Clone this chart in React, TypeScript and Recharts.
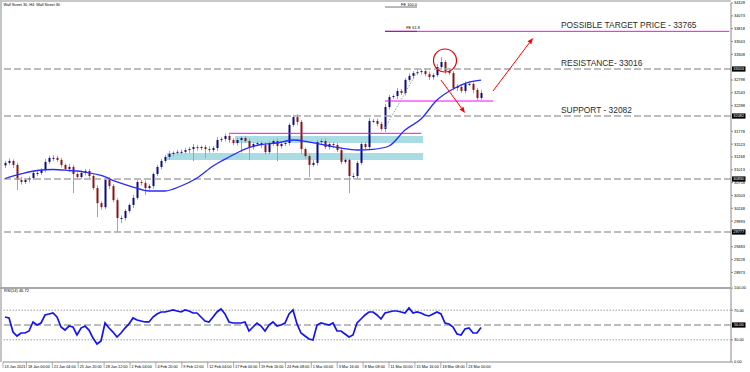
import React from 'react';
import {
  ComposedChart,
  LineChart,
  Bar,
  Line,
  XAxis,
  YAxis,
  ReferenceLine,
  ReferenceArea,
  ReferenceDot,
} from 'recharts';

const FONT = "'Liberation Sans', Arial, sans-serif";

// ---- data (H4 candles, condensed) ----
const firstOpen = 31100;
const closes = [
  31150, 31190, 31110, 30810, 30770, 30810, 30850, 30950, 30950, 31010,
  31170, 31250, 31250, 31210, 31110, 31030, 31070, 30930, 30870, 30950,
  30990, 30890, 30650, 30350, 30270, 30810, 30690, 30410, 30055, 30055,
  30195, 30315, 30455, 30770, 30750, 30650, 30690, 30930, 31070, 31190,
  31270, 31330, 31350, 31370, 31370, 31405, 31425, 31465, 31445, 31465,
  31425, 31405, 31445, 31605, 31625, 31685, 31605, 31545, 31605, 31645,
  31585, 31465, 31525, 31545, 31505, 31365, 31545, 31585, 31485, 31525,
  31545, 31905, 32060, 31965, 31425, 31285, 31110, 31150, 31565, 31585,
  31465, 31525, 31505, 31405, 31170, 31210, 30890, 30890, 31150, 31525,
  31465, 31985, 31985, 31925, 31825, 32260, 32460, 32480, 32580, 32540,
  32800, 32880, 32935, 32955, 32975, 32915, 32855, 32895, 33055, 33155,
  32975, 32935, 32640, 32660, 32580, 32720, 32720, 32600, 32440, 32540,
];
const wickUp = [
  40, 50, 30, 40, 60, 40, 30, 50, 40, 40,
  60, 40, 50, 40, 40, 30, 60, 40, 30, 50,
  40, 40, 30, 60, 40, 40, 60, 40, 40, 50,
  40, 30, 60, 40, 40, 50, 40, 30, 40, 40,
  40, 60, 30, 40, 50, 40, 40, 60, 40, 30,
  40, 50, 40, 60, 40, 50, 30, 40, 50, 40,
  40, 50, 40, 30, 40, 60, 40, 30, 50, 40,
  40, 40, 40, 60, 40, 30, 40, 60, 40, 40,
  50, 40, 30, 40, 50, 40, 30, 60, 40, 40,
  40, 60, 40, 50, 40, 60, 40, 30, 60, 40,
  40, 50, 40, 60, 40, 40, 50, 40, 60, 100,
  40, 50, 40, 60, 40, 50, 40, 30, 40, 60,
];
const wickDn = [
  50, 40, 60, 200, 50, 40, 50, 40, 60, 40,
  50, 40, 60, 40, 50, 40, 60, 380, 50, 40,
  50, 60, 40, 275, 50, 40, 60, 40, 275, 100,
  50, 40, 60, 40, 50, 140, 40, 60, 40, 50,
  40, 60, 50, 40, 50, 40, 60, 240, 50, 40,
  180, 50, 40, 60, 40, 50, 60, 40, 50, 250,
  40, 260, 50, 40, 60, 50, 40, 60, 300, 50,
  40, 50, 40, 60, 100, 50, 240, 40, 50, 60,
  40, 50, 60, 40, 50, 40, 340, 60, 50, 40,
  50, 60, 40, 50, 40, 60, 50, 40, 60, 40,
  50, 40, 60, 40, 50, 40, 60, 50, 40, 50,
  60, 40, 50, 60, 40, 50, 40, 60, 50, 40,
];
const maPoints: [number, number][] = [
  [0, 30840], [4, 30930], [8, 30999], [12, 31019], [16, 30999], [20, 30969],
  [24, 30900], [28, 30771], [32, 30671], [36, 30592], [40, 30592], [44, 30691],
  [48, 30850], [52, 31089], [56, 31267], [60, 31426], [64, 31516], [68, 31546],
  [72, 31605], [76, 31565], [80, 31506], [84, 31446], [88, 31407], [92, 31420],
  [96, 31486], [100, 31804], [104, 32022], [108, 32400], [112, 32619],
  [116, 32758], [119, 32797],
];
const rsiValues = [
  60.8, 59.5, 40.5, 35.1, 39.2, 39.2, 41.9, 54.1, 50.0, 52.7,
  63.5, 64.9, 66.2, 60.8, 47.3, 43.2, 48.6, 47.3, 36.5, 45.9,
  48.6, 43.2, 32.4, 24.3, 28.4, 52.7, 45.9, 40.5, 33.8, 39.2,
  45.9, 51.4, 59.5, 56.8, 55.4, 54.1, 54.1, 60.8, 64.9, 67.6,
  67.6, 68.9, 70.3, 68.9, 67.6, 70.3, 68.9, 66.2, 66.2, 60.8,
  55.4, 54.1, 60.8, 67.6, 71.6, 64.9, 54.1, 52.7, 52.7, 52.7,
  54.1, 41.9, 47.3, 52.7, 48.6, 41.9, 50.0, 54.1, 48.6, 50.0,
  52.7, 64.9, 70.3, 51.4, 39.2, 35.1, 31.1, 29.7, 50.0, 52.7,
  51.4, 50.0, 52.7, 41.9, 41.9, 37.8, 33.8, 36.5, 52.7, 58.1,
  63.5, 67.6, 67.6, 63.5, 58.1, 66.2, 67.6, 68.9, 68.9, 67.6,
  66.2, 73.0, 66.2, 67.6, 66.2, 63.5, 62.2, 64.9, 67.6, 64.9,
  52.7, 51.4, 47.3, 37.8, 36.5, 44.6, 45.9, 39.2, 39.2, 46.7,
];
const priceTicks = [
  34328, 34073, 33818, 33563, 33308, 32798, 32543, 32288, 31778, 31523,
  31268, 31013, 30758, 30503, 30248, 29993, 29483, 29228, 28973,
];
const xLabels = [
  '13 Jan 2021', '18 Jan 00:00', '21 Jan 04:00', '25 Jan 20:00', '28 Jan 12:00',
  '2 Feb 04:00', '4 Feb 20:00', '9 Feb 12:00', '12 Feb 04:00', '17 Feb 00:00',
  '19 Feb 16:00', '24 Feb 08:00', '1 Mar 00:00', '3 Mar 16:00', '8 Mar 08:00',
  '11 Mar 00:00', '15 Mar 16:00', '18 Mar 08:00', '23 Mar 00:00',
];
const rsiTicks = [0, 30, 70, 100];

// levels
const resistance = 33016;
const support = 32082;
const level3 = 30830;
const level4 = 29777;
const target = 33765;
const fe100 = 34248;

// ---- table for recharts ----
const SLOTS = 182;
const rows: any[] = Array.from({ length: SLOTS }, (_, i) => {
  if (i >= closes.length) return { i };
  const open = i === 0 ? firstOpen : closes[i - 1];
  const close = closes[i];
  const high = Math.max(open, close) + wickUp[i];
  const low = Math.min(open, close) - wickDn[i];
  return { i, open, close, high, low, hl: [low, high], rsi: rsiValues[i] };
});
maPoints.forEach(([i, v]) => {
  rows[i].ma = v;
});
const xTickPos = xLabels.map((_, k) => (k === 0 ? -0.5 : -1.125 + 6.475 * k));

// ---- shapes ----
const Candle = (p: any) => {
  const { x, y, width, height, payload } = p;
  if (!payload || payload.high == null || x == null) return null;
  const top = height >= 0 ? y : y + height;
  const h = Math.abs(height);
  const k = h / (payload.high - payload.low);
  const cx = Math.round(x + width / 2);
  const yo = top + (payload.high - payload.open) * k;
  const yc = top + (payload.high - payload.close) * k;
  const up = payload.close >= payload.open;
  const bt = Math.min(yo, yc);
  const bh = Math.max(Math.abs(yo - yc), 1);
  return (
    <g>
      <line x1={cx + 0.5} x2={cx + 0.5} y1={top} y2={top + h} stroke="#a4a4a4" strokeWidth={1} />
      <rect x={cx - 0.5} y={bt} width={2} height={bh} fill={up ? '#0b0b86' : '#8a1414'} />
    </g>
  );
};

const Arrow = (p: any) => {
  const { x1, y1, x2, y2 } = p;
  if (x1 == null) return null;
  const a = Math.atan2(y2 - y1, x2 - x1);
  const L = 6;
  const W = 2.4;
  const bx = x2 - L * Math.cos(a);
  const by = y2 - L * Math.sin(a);
  const pts = `${x2},${y2} ${bx + W * Math.sin(a)},${by - W * Math.cos(a)} ${bx - W * Math.sin(a)},${by + W * Math.cos(a)}`;
  return (
    <g>
      <line x1={x1} y1={y1} x2={bx} y2={by} stroke="#ff0000" strokeWidth={1} />
      <polygon points={pts} fill="#ff0000" />
    </g>
  );
};

const PriceBox = ({ viewBox, text }: any) => {
  if (!viewBox) return null;
  const x = viewBox.x + viewBox.width + 1;
  const y = viewBox.y;
  return (
    <g>
      <rect x={x} y={y - 2.6} width={13.5} height={5.2} fill="#000" />
      <text x={x + 6.75} y={y + 1.4} textAnchor="middle" fontSize={3.9} fill="#fff" fontFamily={FONT}>
        {text}
      </text>
    </g>
  );
};

const XTick = (p: any) => {
  const { x, y, index } = p;
  return (
    <g>
      <line x1={x} x2={x} y1={y} y2={y + 6} stroke="#8a8a8a" strokeWidth={0.7} />
      <text x={x + 1.5} y={y + 5.5} fontSize={3.8} fill="#000" fontFamily={FONT}>
        {xLabels[index]}
      </text>
    </g>
  );
};

const dashed = { stroke: '#a8a8a8', strokeWidth: 1.6, strokeDasharray: '7 3' };
const bigText = { fontSize: 8.4, fill: '#2b2b2b', fontFamily: FONT };

export default function App() {
  return (
    <div style={{ position: 'absolute', left: 0, top: 0, width: 750, height: 372, background: '#fff', overflow: 'hidden' }}>
      <div style={{ position: 'absolute', left: 0, top: 0 }}>
        <ComposedChart width={750} height={289} data={rows} margin={{ top: 3, right: 0, bottom: 2, left: 3 }}>
          <XAxis dataKey="i" type="category" hide />
          <YAxis
            orientation="right"
            width={19}
            domain={[28684, 34328]}
            allowDataOverflow
            ticks={priceTicks}
            interval={0}
            tickSize={2}
            tickMargin={1}
            tick={{ fontSize: 3.9, fill: '#000', fontFamily: FONT }}
            axisLine={{ stroke: '#8a8a8a' }}
            tickLine={{ stroke: '#8a8a8a' }}
          />
          <ReferenceArea x1={41} x2={104} y1={31208} y2={31347} fill="#a9dce3" fillOpacity={1} stroke="none" />
          <ReferenceArea x1={58} x2={104} y1={31546} y2={31685} fill="#a9dce3" fillOpacity={1} stroke="none" />
          <ReferenceLine y={resistance} {...dashed} label={<PriceBox text="33016" />} />
          <ReferenceLine y={support} {...dashed} label={<PriceBox text="32082" />} />
          <ReferenceLine y={level3} {...dashed} label={<PriceBox text="30830" />} />
          <ReferenceLine y={level4} {...dashed} label={<PriceBox text="29777" />} />
          <ReferenceLine
            y={34328}
            stroke="none"
            label={{ value: 'Wall Street 30, H4: Wall Street 30', position: 'insideTopLeft', offset: 0.5, fontSize: 3.8, fill: '#000', fontFamily: FONT }}
          />
          <ReferenceLine segment={[{ x: 95, y: target }, { x: 181, y: target }]} stroke="#ff00ff" strokeWidth={1} />
          <ReferenceLine segment={[{ x: 95, y: target }, { x: 103, y: target }]} stroke="#8b1a8b" strokeWidth={1} />
          <ReferenceLine segment={[{ x: 95, y: fe100 }, { x: 103, y: fe100 }]} stroke="#777777" strokeWidth={1} />
          <ReferenceLine segment={[{ x: 95, y: 32380 }, { x: 122, y: 32380 }]} stroke="#ff00ff" strokeWidth={1} />
          <ReferenceLine segment={[{ x: 56, y: 31738 }, { x: 104, y: 31738 }]} stroke="#ff00ff" strokeWidth={1} />
          <ReferenceLine segment={[{ x: 95, y: 31844 }, { x: 103, y: 32956 }]} stroke="#9a9a9a" strokeWidth={1} strokeDasharray="1.5 1.5" />
          <Bar dataKey="hl" isAnimationActive={false} shape={(p: any) => <Candle {...p} />} />
          <Line dataKey="ma" type="monotone" connectNulls dot={false} stroke="#2a2aff" strokeWidth={1.3} isAnimationActive={false} />
          <ReferenceDot x={110} y={33185} r={11.5} fill="none" stroke="#e00000" strokeWidth={1.2} />
          <ReferenceLine segment={[{ x: 109, y: 32797 }, { x: 115, y: 32142 }]} shape={(p: any) => <Arrow {...p} />} />
          <ReferenceLine segment={[{ x: 122, y: 32579 }, { x: 132, y: 33632 }]} shape={(p: any) => <Arrow {...p} />} />
          <ReferenceDot x={101} y={34298} r={0} label={{ value: 'FE 100.0', position: 'center', fontSize: 3.9, fill: '#000', fontFamily: FONT }} />
          <ReferenceDot x={102} y={33831} r={0} label={{ value: 'FE 61.8', position: 'center', fontSize: 3.9, fill: '#000', fontFamily: FONT }} />
          <ReferenceDot x={139} y={33890} r={0} label={{ value: 'POSSIBLE TARGET PRICE - 33765', position: 'right', offset: 0, ...bigText }} />
          <ReferenceDot x={139} y={33145} r={0} label={{ value: 'RESISTANCE- 33016', position: 'right', offset: 0, ...bigText }} />
          <ReferenceDot x={139} y={32201} r={0} label={{ value: 'SUPPORT - 32082', position: 'right', offset: 0, ...bigText }} />
        </ComposedChart>
      </div>
      <div style={{ position: 'absolute', left: 0, top: 286 }}>
        <LineChart width={750} height={86} data={rows} margin={{ top: 2, right: 0, bottom: 0, left: 3 }}>
          <XAxis
            dataKey="i"
            type="number"
            domain={[-0.5, 181.5]}
            allowDataOverflow
            ticks={xTickPos}
            interval={0}
            tickSize={0}
            tickMargin={0}
            height={10}
            tick={(p: any) => <XTick {...p} />}
            axisLine={{ stroke: '#8a8a8a' }}
            tickLine={false}
          />
          <YAxis
            orientation="right"
            width={19}
            domain={[0, 100]}
            ticks={rsiTicks}
            interval={0}
            tickSize={2}
            tickMargin={1}
            tickFormatter={(v: number) => v.toFixed(2)}
            tick={{ fontSize: 3.9, fill: '#000', fontFamily: FONT }}
            axisLine={{ stroke: '#8a8a8a' }}
            tickLine={{ stroke: '#8a8a8a' }}
          />
          <ReferenceLine y={70} stroke="#a0a0a0" strokeWidth={1} strokeDasharray="1.5 1.5" />
          <ReferenceLine y={30} stroke="#a0a0a0" strokeWidth={1} strokeDasharray="1.5 1.5" />
          <ReferenceLine y={50} {...dashed} label={<PriceBox text="50.00" />} />
          <ReferenceLine
            y={100}
            stroke="none"
            label={{ value: 'RSI(14) 46.72', position: 'insideTopLeft', offset: 1, fontSize: 4, fill: '#000', fontFamily: FONT }}
          />
          <Line dataKey="rsi" dot={false} stroke="#1414f0" strokeWidth={1.7} isAnimationActive={false} />
        </LineChart>
      </div>
      <div style={{ position: 'absolute', left: 0, top: 0, width: 731, height: 2, background: '#c8c8c8' }} />
      <div style={{ position: 'absolute', left: 0, top: 0, width: 2, height: 362, background: '#c4c4c4' }} />
      <div style={{ position: 'absolute', left: 0, top: 287, width: 731, height: 2, background: '#a9a9a9' }} />
    </div>
  );
}
